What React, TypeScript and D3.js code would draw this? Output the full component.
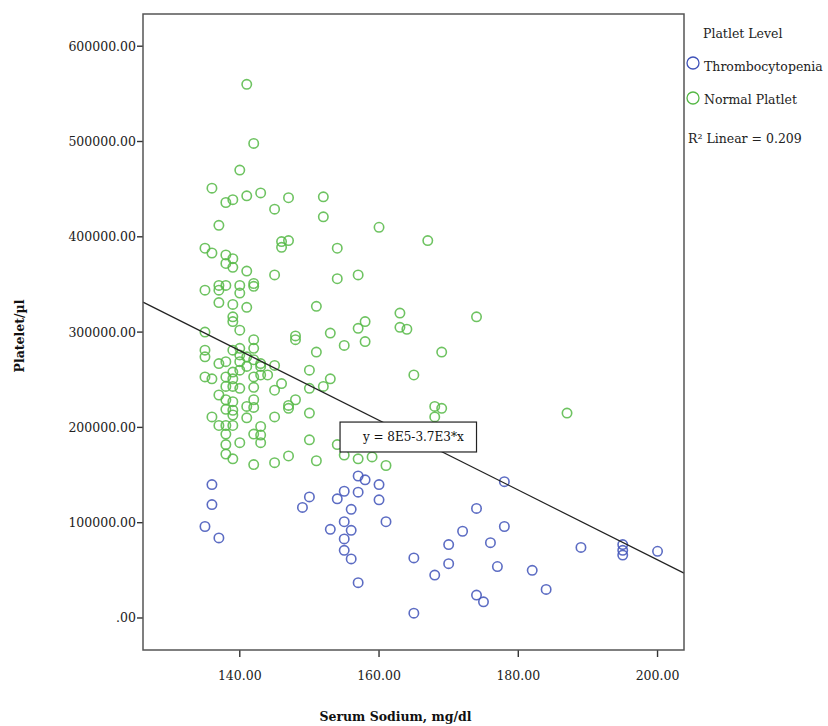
import React from 'react';
import * as d3 from 'd3';

const W = 828;
const H = 726;

// Serum sodium (mg/dl), platelet (/µl)
const normalPlatlet: [number, number][] = [
  [141,560000],[142,498000],[140,470000],[136,451000],[138,436000],[139,439000],[141,443000],[143,446000],
  [145,429000],[147,441000],[152,442000],[152,421000],[137,412000],[135,388000],[136,383000],[138,381000],
  [139,377000],[138,372000],[139,368000],[141,364000],[145,360000],[146,395000],[147,396000],[146,389000],
  [154,388000],[154,356000],[160,410000],[167,396000],[157,360000],[151,327000],[163,320000],[158,311000],
  [157,304000],[163,305000],[164,303000],[153,299000],[174,316000],[155,286000],[158,290000],[169,279000],
  [151,279000],[165,255000],[153,251000],
  [135,344000],[137,349000],[137,344000],[138,349000],[140,349000],[140,341000],[142,351000],[142,348000],
  [137,331000],[139,329000],[141,326000],[139,316000],[139,311000],[140,302000],[135,300000],[148,296000],
  [148,292000],[142,292000],[135,281000],[135,274000],[139,281000],[140,283000],[142,283000],[140,276000],
  [141,274000],[137,267000],[138,269000],[140,269000],[141,264000],[142,271000],[143,267000],[145,265000],
  [139,258000],[140,260000],[143,264000],[135,253000],[136,251000],[138,253000],[139,251000],[142,253000],
  [143,255000],[144,255000],[146,246000],[150,260000],[152,243000],[150,241000],[139,243000],[140,241000],
  [138,243000],[142,242000],[145,239000],[137,234000],[138,229000],[142,229000],[139,227000],[147,223000],
  [148,229000],[147,220000],[150,215000],[138,219000],[139,218000],[141,222000],[142,221000],[136,211000],
  [139,213000],[141,210000],[145,211000],[137,202000],[138,202000],[139,202000],[143,201000],[138,193000],
  [142,193000],[143,192000],[143,184000],[140,184000],[150,187000],[138,182000],[154,182000],[138,172000],
  [139,167000],[147,170000],[142,161000],[145,163000],[151,165000],[168,222000],[169,220000],[168,211000],
  [187,215000],[155,171000],[157,167000],[159,169000],[161,160000],[156,183000]
];

const thrombocytopenia: [number, number][] = [
  [136,140000],[136,119000],[135,96000],[137,84000],[150,127000],[149,116000],[153,93000],[155,133000],
  [154,125000],[157,149000],[158,145000],[157,132000],[160,140000],[160,124000],[156,114000],[155,101000],
  [156,92000],[155,83000],[155,71000],[156,62000],[161,101000],[157,37000],[165,63000],[168,45000],
  [165,5000],[178,143000],[174,115000],[172,91000],[178,96000],[170,77000],[176,79000],[170,57000],
  [177,54000],[182,50000],[184,30000],[174,24000],[175,17000],[189,74000],[195,77000],[195,71000],
  [195,66000],[200,70000]
];

const xTicks = [140, 160, 180, 200];
const yTicks = [0, 100000, 200000, 300000, 400000, 500000, 600000];
const xDomain: [number, number] = [126.1, 203.8];
const yDomain: [number, number] = [-33600, 633800];

const regIntercept = 793000;
const regSlope = -3660;
const equationLabel = 'y = 8E5-3.7E3*x';
const r2Label = 'R\u00B2 Linear = 0.209';
const legendTitle = 'Platlet Level';
const seriesNames = ['Thrombocytopenia', 'Normal Platlet'];
const seriesColors = ['#3f52b9', '#55b845'];
const xTitle = 'Serum Sodium, mg/dl';
const yTitle = 'Platelet/\u00B5l';

// equation box anchor (data units)
const eqBox = { x0: 154.4, x1: 174.0, y0: 205600, y1: 174200 };

const FONT = '"DejaVu Serif", serif';

export default function App() {
  const left = 143, right = 684, top = 14, bottom = 650;
  const x = d3.scaleLinear().domain(xDomain).range([left, right]);
  const y = d3.scaleLinear().domain(yDomain).range([bottom, top]);
  const line = d3.line<[number, number]>().x(d => x(d[0])).y(d => y(d[1]));
  const regPts: [number, number][] = xDomain.map(v => [v, regIntercept + regSlope * v] as [number, number]);
  const fmt = (v: number) => (v === 0 ? '.00' : v.toFixed(2));
  const tc = '#222';

  return (
    <svg width={W} height={H} style={{ position: 'absolute', left: 0, top: 0, background: '#fff' }}
      fontFamily={FONT}>
      <rect x={0} y={0} width={W} height={H} fill="#fff" />
      {/* y ticks */}
      {yTicks.map(t => (
        <g key={'y' + t}>
          <line x1={left - 6} x2={left} y1={y(t)} y2={y(t)} stroke="#333" strokeWidth={1.4} />
          <text x={left - 7} y={y(t)} textAnchor="end" dominantBaseline="central" fontSize={12.5} fill={tc}>{fmt(t)}</text>
        </g>
      ))}
      {/* x ticks */}
      {xTicks.map(t => (
        <g key={'x' + t}>
          <line x1={x(t)} x2={x(t)} y1={bottom} y2={bottom + 7} stroke="#333" strokeWidth={1.4} />
          <text x={x(t)} y={bottom + 25} textAnchor="middle" dominantBaseline="central" fontSize={12.5} fill={tc}>{fmt(t)}</text>
        </g>
      ))}
      {/* points */}
      <g fill="none" strokeWidth={1.6}>
        {normalPlatlet.map((d, i) => (
          <circle key={'n' + i} cx={x(d[0])} cy={y(d[1])} r={4.7} stroke={seriesColors[1]} strokeOpacity={0.85} />
        ))}
        {thrombocytopenia.map((d, i) => (
          <circle key={'t' + i} cx={x(d[0])} cy={y(d[1])} r={4.7} stroke={seriesColors[0]} strokeOpacity={0.85} />
        ))}
      </g>
      {/* regression line */}
      <path d={line(regPts) || ''} fill="none" stroke="#222" strokeWidth={1.2} />
      {/* equation box */}
      <rect x={x(eqBox.x0)} y={y(eqBox.y0)} width={x(eqBox.x1) - x(eqBox.x0)} height={y(eqBox.y1) - y(eqBox.y0)}
        fill="#fff" stroke="#222" strokeWidth={1.2} />
      <text x={(x(eqBox.x0) + x(eqBox.x1)) / 2 + 5} y={(y(eqBox.y0) + y(eqBox.y1)) / 2} textAnchor="middle"
        dominantBaseline="central" fontSize={12} fill="#111">{equationLabel}</text>
      {/* frame */}
      <rect x={left} y={top} width={right - left} height={bottom - top} fill="none" stroke="#555" strokeWidth={1.5} />
      {/* axis titles */}
      <text x={(left + 650) / 2 - 1} y={716} textAnchor="middle" dominantBaseline="central" fontSize={12.5}
        fontWeight="bold" fill="#111">{xTitle}</text>
      <text transform={`translate(19,336) rotate(-90)`} textAnchor="middle" dominantBaseline="central" fontSize={12.5}
        fontWeight="bold" fill="#111">{yTitle}</text>
      {/* legend */}
      <text x={703} y={33} dominantBaseline="central" fontSize={12.5} fill={tc}>{legendTitle}</text>
      {seriesNames.map((s, i) => (
        <g key={s}>
          <circle cx={693} cy={63 + i * 35} r={6} fill="none" stroke={seriesColors[i]} strokeWidth={1.3} />
          <text x={704} y={66 + i * 33} dominantBaseline="central" fontSize={12.5} fill={tc}>{s}</text>
        </g>
      ))}
      <text x={688} y={138} dominantBaseline="central" fontSize={12.5} fill={tc}>{r2Label}</text>
    </svg>
  );
}
